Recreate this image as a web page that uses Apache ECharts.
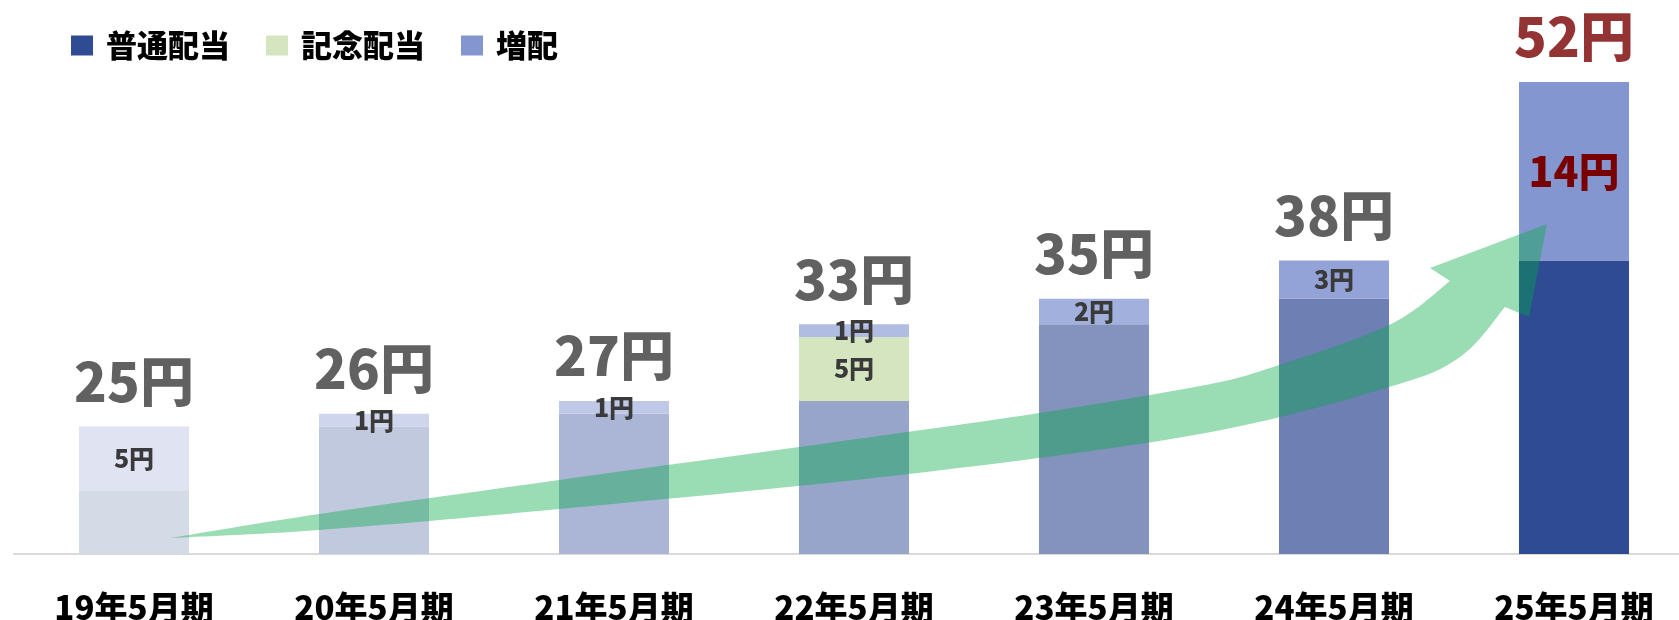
<!DOCTYPE html>
<html>
<head>
<meta charset="utf-8">
<script src="https://cdn.jsdelivr.net/npm/echarts@6/dist/echarts.min.js"></script>
<style>
  html, body { margin: 0; padding: 0; background: #fff; }
  #main { width: 1679px; height: 620px; }
</style>
</head>
<body>
<div id="main"></div>
<script>
var categories = ['19年5月期', '20年5月期', '21年5月期', '22年5月期', '23年5月期', '24年5月期', '25年5月期'];
var regular = [20, 25, 26, 27, 33, 35, 38];        // 普通配当
var commemorative = ['-', '-', '-', 5, '-', '-', '-']; // 記念配当
var increase = [5, 1, 1, 1, 2, 3, 14];             // 増配

var totals = categories.map(function (c, i) {
  var m = commemorative[i] === '-' ? 0 : commemorative[i];
  return regular[i] + m + increase[i];
});

var baseColors = ['#d5dae7', '#c1c9df', '#abb6d6', '#97a5ca', '#8393bd', '#6d7fb3', '#2e4b94'];
var incColors = ['#dfe3f2', '#cfd5ed', '#c0c8e7', '#b1bce3', '#a2b0de', '#94a3d7', '#8496cf'];
var FONT = '"Noto Sans CJK JP", "Noto Sans", sans-serif';
var DARK = '#3a3a3a';
var RED = '#780000';

// catmull-rom through points, sampled into a polyline
function sampleCurve(pts) {
  var out = [];
  for (var i = 0; i < pts.length - 1; i++) {
    var p0 = pts[i - 1] || pts[i], p1 = pts[i], p2 = pts[i + 1], p3 = pts[i + 2] || p2;
    var c1 = [p1[0] + (p2[0] - p0[0]) / 6, p1[1] + (p2[1] - p0[1]) / 6];
    var c2 = [p2[0] - (p3[0] - p1[0]) / 6, p2[1] - (p3[1] - p1[1]) / 6];
    for (var k = 0; k < 16; k++) {
      var t = k / 16, u = 1 - t;
      out.push([
        u*u*u*p1[0] + 3*u*u*t*c1[0] + 3*u*t*t*c2[0] + t*t*t*p2[0],
        u*u*u*p1[1] + 3*u*u*t*c1[1] + 3*u*t*t*c2[1] + t*t*t*p2[1]
      ]);
    }
  }
  out.push(pts[pts.length - 1]);
  return out;
}

var upper = [[170,538],[319,514],[559,480],[900,433],[1039,413],[1200,386],[1270,368],[1389,325],[1450,281]];
var lower = [[1505,307],[1460,357],[1389,387],[1200,434],[900,475],[559,509],[319,530],[170,538]];
var arrowPts = sampleCurve(upper)
  .concat([[1430,268],[1547,224],[1529,317]])
  .concat(sampleCurve(lower));

var chart = echarts.init(document.getElementById('main'));

var option = {
  animation: false,
  legend: {
    data: ['普通配当', '記念配当', '増配'],
    left: 66,
    top: 25,
    itemWidth: 22,
    itemHeight: 20,
    itemGap: 36,
    icon: 'rect',
    textStyle: { fontFamily: FONT, fontWeight: 900, fontSize: 31, color: '#000', padding: [0, 0, 8, 8] }
  },
  grid: { left: 14, top: 43.6, width: 1680, bottom: 66, outerBoundsMode: 'none', containLabel: false },
  xAxis: {
    type: 'category',
    data: categories,
    axisLine: { lineStyle: { color: '#d9d9d9', width: 2 } },
    axisTick: { show: false },
    axisLabel: { fontFamily: FONT, fontWeight: 900, fontSize: 33, color: '#000', margin: 37 }
  },
  yAxis: {
    type: 'value',
    min: 15,
    max: 55,
    show: false,
    splitLine: { show: false }
  },
  series: [
    {
      name: '普通配当',
      type: 'bar',
      stack: 'div',
      barWidth: 110,
      itemStyle: { color: '#2e4b94' },
      data: regular.map(function (v, i) { return { value: v, itemStyle: { color: baseColors[i] } }; })
    },
    {
      name: '記念配当',
      type: 'bar',
      stack: 'div',
      barWidth: 110,
      itemStyle: { color: '#d5e5c0' },
      label: {
        show: true, position: 'inside', formatter: '{c}円',
        fontFamily: FONT, fontWeight: 900, fontSize: 25, color: DARK
      },
      data: commemorative
    },
    {
      name: '増配',
      type: 'bar',
      stack: 'div',
      barWidth: 110,
      itemStyle: { color: '#8496cf' },
      label: {
        show: true, position: 'inside', formatter: '{c}円',
        fontFamily: FONT, fontWeight: 900, fontSize: 25, color: DARK
      },
      data: increase.map(function (v, i) {
        var d = { value: v, itemStyle: { color: incColors[i] } };
        if (i === increase.length - 1) d.label = { fontSize: 41, color: RED };
        return d;
      })
    },
    {
      name: '合計',
      type: 'scatter',
      symbolSize: 0,
      silent: true,
      label: {
        show: true, position: 'top', distance: 18,
        formatter: function (p) { return p.value + '円'; },
        fontFamily: FONT, fontWeight: 900, fontSize: 54, color: DARK
      },
      data: totals.map(function (v, i) {
        var d = { value: v };
        if (i === totals.length - 1) d.label = { color: RED };
        return d;
      })
    }
  ],
  graphic: [
    {
      type: 'polygon',
      z: 100,
      silent: true,
      shape: { points: arrowPts },
      style: { fill: 'rgb(2,170,70)', opacity: 0.4 }
    }
  ]
};

chart.setOption(option);
</script>
</body>
</html>
